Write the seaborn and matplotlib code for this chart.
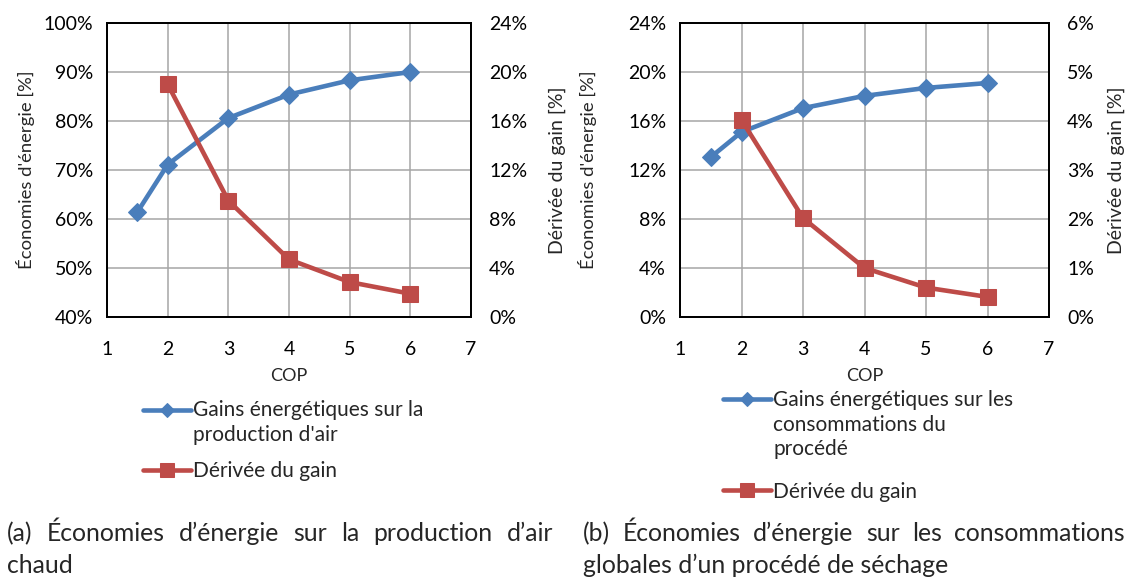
import matplotlib
matplotlib.use("Agg")
import matplotlib.pyplot as plt
from matplotlib.ticker import PercentFormatter, MultipleLocator
from matplotlib.legend_handler import HandlerLine2D
import numpy as np
import pandas as pd
import seaborn as sns

####################################################################################
## DATA
####################################################################################
cop_gain = [1.5, 2, 3, 4, 5, 6]
cop_deriv = [2, 3, 4, 5, 6]

# (a) hot air production
gain_air = [61.4, 71.1, 80.6, 85.4, 88.3, 90.0]
deriv_air = [19.0, 9.5, 4.7, 2.85, 1.9]

# (b) whole drying process
gain_proc = [13.05, 15.1, 17.05, 18.05, 18.7, 19.1]
deriv_proc = [4.02, 2.02, 1.0, 0.6, 0.41]

label_gain_a = "Gains énergétiques sur la\nproduction d'air"
label_gain_b = "Gains énergétiques sur les\nconsommations du\nprocédé"
label_deriv = "Dérivée du gain"
ylabel_left = "Économies d'énergie [%]"
ylabel_right = "Dérivée du gain [%]"
caption_a = ["(a) Économies d’énergie sur la production d’air", "chaud"]
caption_b = ["(b) Économies d’énergie sur les consommations", "globales d’un procédé de séchage"]

blue = "#4A7EBB"
red = "#BE4B48"

sns.set_theme(style="white")
plt.rcParams["font.family"] = ["Lato", "DejaVu Sans"]

fig = plt.figure(figsize=(11.29, 5.77), dpi=100)
W, H = 1129, 577
LEG_FS = 15
LINESP = 1.27


# legend handle aligned on the first line of a multi-line label (like Excel)
class FirstLineHandler(HandlerLine2D):
    def __init__(self, shift, **kw):
        super().__init__(**kw)
        self.shift = shift

    def create_artists(self, legend, orig_handle, xdescent, ydescent, width, height, fontsize, trans):
        arts = super().create_artists(legend, orig_handle, xdescent, ydescent, width, height, fontsize, trans)
        for a in arts:
            a.set_ydata(np.asarray(a.get_ydata()) + self.shift)
        return arts


def make_panel(left_px, right_px, gain, deriv, ylim_l, step_l, ylim_r, step_r,
               gain_label, legend_xy, labspace, lab_x):
    ax = fig.add_axes([left_px / W, (H - 317) / H, (right_px - left_px) / W, 294 / H])
    df_g = pd.DataFrame({"COP": cop_gain, "val": gain})
    df_d = pd.DataFrame({"COP": cop_deriv, "val": deriv})

    sns.lineplot(data=df_g, x="COP", y="val", ax=ax, color=blue, lw=3.3,
                 marker="D", markersize=9.5, markeredgecolor=blue, label=gain_label, legend=False)
    ax.set_xlim(1, 7)
    ax.set_ylim(*ylim_l)
    ax.xaxis.set_major_locator(MultipleLocator(1))
    ax.yaxis.set_major_locator(MultipleLocator(step_l))
    ax.yaxis.set_major_formatter(PercentFormatter(decimals=0))
    ax.grid(True, color="#a6a6a6", lw=1.1)
    ax.set_axisbelow(True)

    ax2 = ax.twinx()
    sns.lineplot(data=df_d, x="COP", y="val", ax=ax2, color=red, lw=3.3,
                 marker="s", markersize=12, markeredgecolor=red, label=label_deriv, legend=False)
    ax2.set_ylim(*ylim_r)
    ax2.yaxis.set_major_locator(MultipleLocator(step_r))
    ax2.yaxis.set_major_formatter(PercentFormatter(decimals=0))

    for a in (ax, ax2):
        for s in a.spines.values():
            s.set_color("black")
            s.set_linewidth(1.3)
        a.tick_params(labelsize=14, length=0, colors="black")
    ax.tick_params(axis="x", pad=17)
    ax.tick_params(axis="y", pad=10)
    ax2.tick_params(axis="y", pad=13)

    ax.set_xlabel("COP", fontsize=13)
    ax.set_ylabel(ylabel_left, fontsize=13.3)
    ax2.set_ylabel(ylabel_right, fontsize=14)
    ax.xaxis.set_label_coords(0.5, -0.175)
    ax.yaxis.set_label_coords(lab_x[0], 0.5)
    ax2.yaxis.set_label_coords(lab_x[1], 0.5)

    h_gain = ax.get_lines()[0]
    h_der = ax2.get_lines()[0]
    n_lines = gain_label.count("\n") + 1
    shift = (n_lines - 1) / 2 * LINESP * LEG_FS
    leg = fig.legend([h_gain, h_der], [gain_label, label_deriv], loc="upper left",
                     bbox_to_anchor=(legend_xy[0] / W, (H - legend_xy[1]) / H),
                     frameon=False, fontsize=LEG_FS, handlelength=2.3, handletextpad=0.1,
                     labelspacing=labspace, borderpad=0,
                     handler_map={h_gain: FirstLineHandler(shift), h_der: FirstLineHandler(0)})
    for t in leg.get_texts():
        t.set_linespacing(LINESP)
    sizes = [7, 9.5]
    for hnd, ms in zip(leg.legend_handles, sizes):
        hnd.set_markersize(ms)
    return ax, ax2


make_panel(107, 471, gain_air, deriv_air, (40, 100), 10, (0, 24), 4,
           label_gain_a, (133, 390), 0.8, (-0.198, 1.212))
make_panel(680, 1049, gain_proc, deriv_proc, (0, 24), 4, (0, 6), 1,
           label_gain_b, (713, 380), 1.08, (-0.225, 1.16))


def justified(words, x0, x1, y, size):
    r = fig.canvas.get_renderer()
    texts = [fig.text(0, y, w, fontsize=size, va="baseline", ha="left") for w in words]
    widths = [t.get_window_extent(r).width for t in texts]
    gap = (x1 - x0 - sum(widths)) / (len(words) - 1)
    x = x0
    for t, w in zip(texts, widths):
        t.set_x(x / W)
        x += w + gap


cap_size = 17.8
justified(caption_a[0].split(), 7, 553, (H - 541) / H, cap_size)
fig.text(7 / W, (H - 573) / H, caption_a[1], fontsize=cap_size, va="baseline", ha="left")
justified(caption_b[0].split(), 583, 1125, (H - 541) / H, cap_size)
fig.text(583 / W, (H - 573) / H, caption_b[1], fontsize=cap_size, va="baseline", ha="left")

fig.savefig("out.png", dpi=100)
